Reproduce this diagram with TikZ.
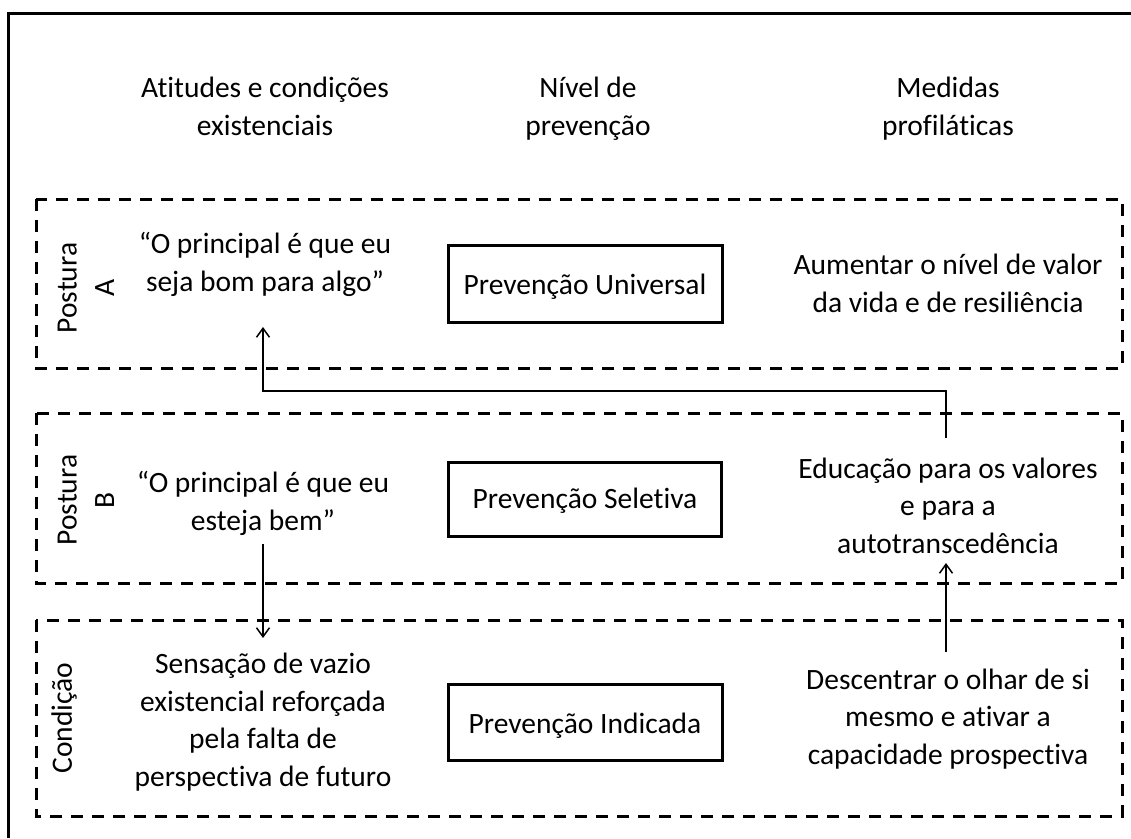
\documentclass[tikz,border=0pt]{standalone}
\usepackage{fontspec}
\setmainfont{Carlito}[Ligatures={NoCommon,NoContextual}]
\usetikzlibrary{arrows.meta}
\tikzset{
  txt/.style={inner sep=0pt, align=center, font=\fontsize{29.5}{37.5}\selectfont},
  zone/.style={draw, line width=3pt, dash pattern=on 12pt off 9pt},
  levelbox/.style={draw, line width=3pt},
  arr/.style={line width=1.5pt, -{Straight Barb[length=9pt,width=13pt]}},
}
\begin{document}
\begin{tikzpicture}[x=1pt,y=-1pt]
\clip (0,0) rectangle (1131,838);
\fill[white] (0,0) rectangle (1131,838);
% outer frame (only left and top visible)
\draw[line width=3pt] (8,838) -- (8,13) -- (1131,13);
% headers
\node[txt, anchor=base] (h1) at (265,135) {Atitudes e condições\\existenciais};
\node[txt, anchor=base] (h2) at (588,135) {Nível de\\prevenção};
\node[txt, anchor=base] (h3) at (948,135) {Medidas\\profiláticas};
% zones
\draw[zone] (36,199) rectangle (1122,368);
\draw[zone] (36,413) rectangle (1122,583);
\draw[zone] (36,620) rectangle (1122,816);
% level boxes
\draw[levelbox] (448,245) rectangle (722,322);
\draw[levelbox] (448,462) rectangle (721,536);
\draw[levelbox] (448,684) rectangle (722,760);
\node[txt, anchor=base] (lA) at (585,294) {Prevenção Universal};
\node[txt, anchor=base] (lB) at (585,508) {Prevenção Seletiva};
\node[txt, anchor=base] (lC) at (585,733) {Prevenção Indicada};
% row labels
\node[txt, rotate=90] (pA) at (86,288) {Postura\\A};
\node[txt, rotate=90] (pB) at (86,500) {Postura\\B};
\node[txt, rotate=90] (pC) at (64,718) {Condição};
% left column
\node[txt, anchor=base] (qA) at (265,291) {“O principal é que eu\\seja bom para algo”};
\node[txt, anchor=base] (qB) at (263,530) {“O principal é que eu\\esteja bem”};
\node[txt, anchor=base] (qC) at (263,786) {Sensação de vazio\\existencial reforçada\\pela falta de\\perspectiva de futuro};
% right column
\node[txt, anchor=base] (rA) at (948,312) {Aumentar o nível de valor\\da vida e de resiliência};
\node[txt, anchor=base] (rB) at (948,553) {Educação para os valores\\e para a\\autotranscedência};
\node[txt, anchor=base] (rC) at (948,764) {Descentrar o olhar de si\\mesmo e ativar a\\capacidade prospectiva};
% connectors
\coordinate (aS) at (946,438);
\coordinate (aT) at (946,391);
\coordinate (aE) at (263,327);
\draw[arr] (aS) -- (aT) -| (aE);
\coordinate (bS) at (263,544);
\coordinate (bE) at (263,638);
\draw[arr] (bS) -- (bE);
\coordinate (cS) at (946,652);
\coordinate (cE) at (946,563);
\draw[arr] (cS) -- (cE);
\end{tikzpicture}
\end{document}
